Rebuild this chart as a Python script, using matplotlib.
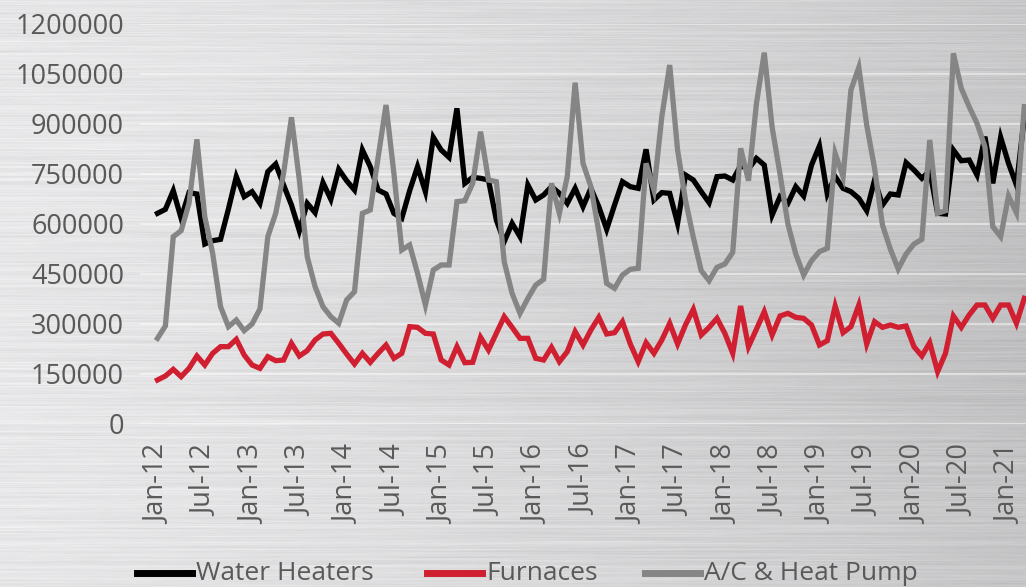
import numpy as np
import pandas as pd
import matplotlib
matplotlib.use("Agg")
import matplotlib.pyplot as plt
from matplotlib.lines import Line2D

# monthly shipments, Jan-2012 .. Mar-2021
months = pd.date_range("2012-01-01", periods=111, freq="MS")

water_heaters = [
    632000, 644000, 700000, 617000, 694000, 690000, 540000, 550000, 554000, 645000,
    742000, 682000, 697000, 662000, 757000, 780000, 717000, 657000, 580000, 662000,
    634000, 724000, 674000, 764000, 730000, 702000, 822000, 772000, 702000, 690000,
    632000, 617000, 700000, 772000, 697000, 860000, 822000, 800000, 947000, 722000,
    740000, 737000, 732000, 612000, 547000, 602000, 562000, 717000, 672000, 687000,
    712000, 692000, 662000, 707000, 652000, 707000, 652000, 584000, 657000, 727000,
    712000, 707000, 824000, 672000, 694000, 692000, 602000, 747000, 732000, 697000,
    664000, 742000, 744000, 732000, 775000, 765000, 797000, 777000, 627000, 682000,
    662000, 712000, 684000, 777000, 834000, 690000, 742000, 707000, 697000, 677000,
    640000, 732000, 657000, 690000, 687000, 784000, 762000, 737000, 760000, 632000,
    630000, 822000, 790000, 792000, 747000, 862000, 722000, 860000, 782000, 717000,
    920000,
]

furnaces = [
    132000, 144000, 164000, 142000, 167000, 204000, 177000, 212000, 232000, 232000,
    254000, 207000, 177000, 167000, 202000, 190000, 192000, 242000, 204000, 220000,
    252000, 270000, 272000, 242000, 210000, 180000, 212000, 185000, 212000, 237000,
    197000, 212000, 292000, 290000, 272000, 270000, 192000, 177000, 232000, 184000,
    185000, 260000, 222000, 272000, 322000, 290000, 257000, 257000, 197000, 192000,
    230000, 187000, 217000, 277000, 237000, 282000, 320000, 270000, 274000, 307000,
    240000, 187000, 244000, 212000, 252000, 302000, 240000, 297000, 344000, 267000,
    290000, 317000, 272000, 212000, 354000, 232000, 284000, 337000, 267000, 324000,
    332000, 320000, 317000, 297000, 237000, 250000, 354000, 274000, 292000, 357000,
    240000, 307000, 290000, 297000, 290000, 294000, 232000, 204000, 244000, 157000,
    212000, 324000, 290000, 327000, 357000, 357000, 317000, 357000, 357000, 302000,
    377000,
]

ac_heat_pump = [
    257000, 294000, 562000, 580000, 662000, 854000, 622000, 512000, 352000, 292000,
    312000, 280000, 300000, 345000, 562000, 632000, 752000, 920000, 732000, 502000,
    412000, 352000, 322000, 302000, 372000, 397000, 632000, 642000, 800000, 957000,
    752000, 522000, 537000, 452000, 357000, 462000, 477000, 477000, 667000, 670000,
    722000, 877000, 732000, 727000, 487000, 392000, 332000, 377000, 417000, 434000,
    722000, 632000, 742000, 1024000, 782000, 712000, 577000, 422000, 407000, 447000,
    464000, 467000, 782000, 702000, 922000, 1077000, 822000, 672000, 560000, 460000,
    430000, 470000, 480000, 515000, 827000, 730000, 960000, 1114000, 890000, 750000,
    600000, 510000, 447000, 490000, 517000, 527000, 812000, 742000, 1002000, 1070000,
    897000, 767000, 597000, 525000, 465000, 510000, 540000, 554000, 852000, 632000,
    640000, 1112000, 1007000, 952000, 902000, 832000, 592000, 562000, 684000, 634000,
    952000,
]

series_names = ["Water Heaters", "Furnaces", "A/C & Heat Pump"]
series_colors = ["#000000", "#d01f30", "#858585"]
y_ticks = [0, 150000, 300000, 450000, 600000, 750000, 900000, 1050000, 1200000]

W, H = 1026, 587
fig = plt.figure(figsize=(W / 100, H / 100), dpi=100)

# brushed metal backdrop: horizontal streaks over a light-to-dark gradient
rng = np.random.default_rng(7)
yy, xx = np.mgrid[0:H, 0:W]
xn, yn = xx / W, yy / H
base = 0.91 - 0.12 * xn ** 1.4 - 0.04 * np.exp(-((yn - 0.55) / 0.35) ** 2) * xn
noise = rng.normal(0, 1, (H, W + 200))
kern = np.ones(120) / 120
streak = np.array([np.convolve(r, kern, mode="same")[100:100 + W] for r in noise])
rows = np.convolve(rng.normal(0, 1, H), np.ones(2) / 2, mode="same")[:, None]
tex = np.clip(base + 0.12 * streak + 0.012 * rows, 0, 1)
bg = fig.add_axes([0, 0, 1, 1], zorder=0)
bg.imshow(np.dstack([tex, tex, tex + 0.006]).clip(0, 1), aspect="auto",
          extent=[0, 1, 0, 1], interpolation="bilinear")
bg.axis("off")

# plot area: month i sits at 157.5 + 7.88*i px, y from 0 (px 424) to 1.2M (px 24)
left_px, right_px = 140, W
x0 = (left_px - 157.5) / 7.88
x1 = (right_px - 157.5) / 7.88
ax = fig.add_axes([left_px / W, (H - 424) / H, (right_px - left_px) / W, 400 / H], zorder=1)
ax.set_facecolor("none")

idx = np.arange(len(months))
for z, (vals, col) in enumerate(zip([water_heaters, furnaces, ac_heat_pump], series_colors)):
    ax.plot(idx, vals, color=col, lw=3.8, zorder=3 + z, solid_joinstyle="miter")

ax.set_xlim(x0, x1)
ax.set_ylim(0, 1200000)
ax.set_yticks(y_ticks)
ax.set_yticklabels([str(v) for v in y_ticks])
for v in y_ticks:
    ax.axhline(v, color="white", lw=1.2, alpha=0.55, zorder=1)

ax.set_xticks(idx[::6])
ax.set_xticklabels([m.strftime("%b-%y") for m in months[::6]], rotation=90)

ax.tick_params(axis="both", length=0, colors="#595959", labelsize=19.5)
ax.tick_params(axis="x", pad=15)
ax.tick_params(axis="y", pad=11.5)
for lab in ax.get_xticklabels() + ax.get_yticklabels():
    lab.set_family("Open Sans")
for s in ax.spines.values():
    s.set_visible(False)

# legend row under the axis labels
leg_y = 1 - 573 / H
handle_x = [137, 427, 645]
for hx, name, col in zip(handle_x, series_names, series_colors):
    fig.add_artist(Line2D([hx / W, (hx + 55) / W], [leg_y, leg_y], color=col, lw=5,
                          transform=fig.transFigure, zorder=5))
    fig.text((hx + 59) / W, leg_y, name, color="#595959", family="Open Sans", size=19,
             va="center", ha="left", zorder=5)

fig.savefig("out.png", dpi=100)
